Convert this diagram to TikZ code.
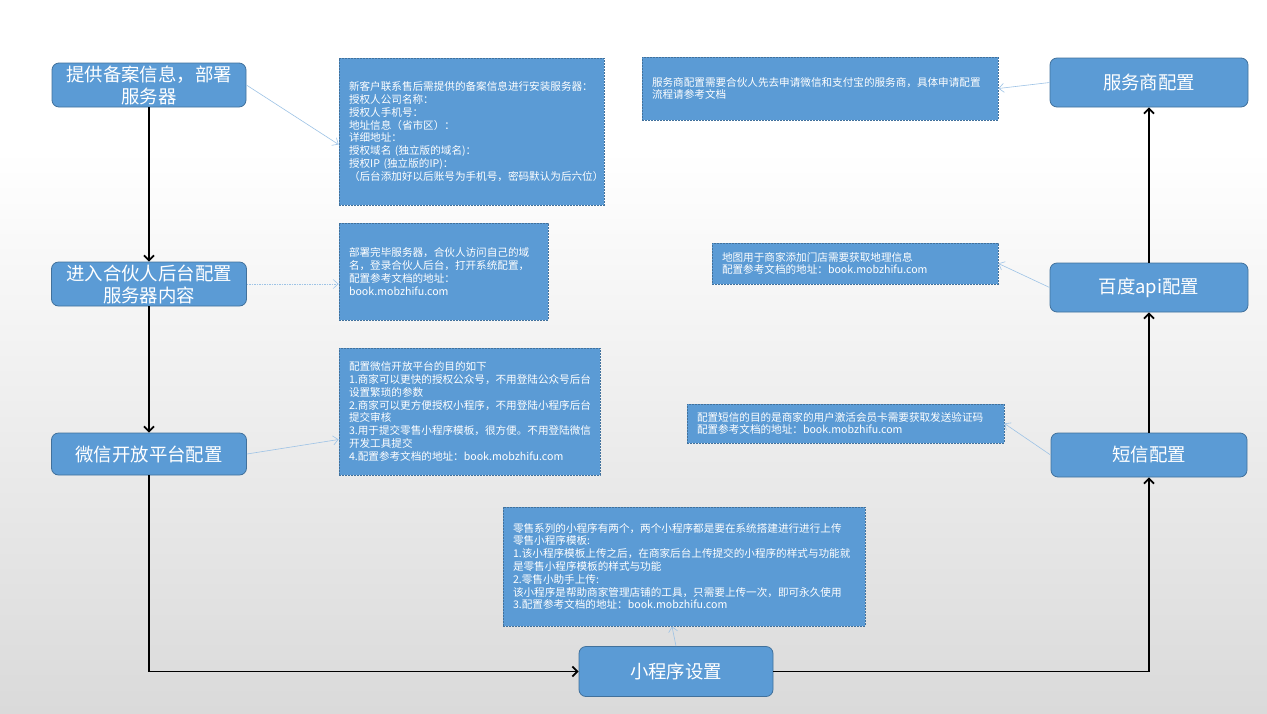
\documentclass[tikz,border=0pt]{standalone}
\usepackage{fontspec}
\setmainfont{Noto Sans CJK SC}
\usetikzlibrary{arrows.meta}

\definecolor{boxblue}{HTML}{5B9BD5}
\definecolor{edgeblue}{HTML}{41719C}
\definecolor{lineblue}{HTML}{9DC3E6}
\definecolor{bggray}{RGB}{218,218,218}

\begin{document}
\begin{tikzpicture}[x=1pt,y=-1pt,
                    mainbox/.style={draw=edgeblue,fill=boxblue,text=white,rounded corners=7pt,line width=0.8pt,
                                    align=center,inner sep=2pt,font=\fontsize{18.4}{22}\selectfont},
                    notebox/.style={draw=edgeblue,fill=boxblue,text=white,dash pattern=on 2pt off 1pt,line width=0.8pt,
                                    inner xsep=10pt,inner ysep=2pt,align=left,font=\fontsize{10.6}{12.8}\selectfont},
                    flow/.style={line width=1.8pt,-{Straight Barb[length=5pt,width=10pt]}},
                    hint/.style={draw=lineblue,line width=0.6pt,-{Straight Barb[length=5pt,width=9pt]}}
]

\fill[white] (0,0) rectangle (1267,150);
\shade[top color=white,bottom color=bggray] (0,150) rectangle (1267,713);
%
\node [mainbox, minimum width=194pt, minimum height=44pt] at (149,85) (box1) {提供备案信息，部署\\服务器};
\node [mainbox, minimum width=195pt, minimum height=44pt] at (149,284) (box2) {进入合伙人后台配置\\服务器内容};
\node [mainbox, minimum width=195pt, minimum height=42pt] at (149,454) (box3) {微信开放平台配置};
\node [mainbox, minimum width=194pt, minimum height=50pt] at (676,671.5) (box4) {小程序设置};
\node [mainbox, minimum width=198pt, minimum height=49pt] at (1149,82.5) (box5) {服务商配置};
\node [mainbox, minimum width=198pt, minimum height=49pt] at (1149,287.5) (box6) {百度api配置};
\node [mainbox, minimum width=196pt, minimum height=44pt] at (1149,455) (box7) {短信配置};
%
\node [notebox, text width=245pt, minimum height=147pt] at (471.5,131.5) (note1) {新客户联系售后需提供的备案信息进行安装服务器：\\授权人公司名称：\\授权人手机号：\\地址信息（省市区）：\\详细地址：\\授权域名 (独立版的域名)：\\授权IP (独立版的IP)：\\（后台添加好以后账号为手机号，密码默认为后六位）};
\node [notebox, text width=189pt, minimum height=97pt] at (443.5,271.5) (note2) {部署完毕服务器，合伙人访问自己的域\\名，登录合伙人后台，打开系统配置，\\配置参考文档的地址：\\book.mobzhifu.com};
\node [notebox, text width=241pt, minimum height=127pt] at (469.5,411.5) (note3) {配置微信开放平台的目的如下\\1.商家可以更快的授权公众号，不用登陆公众号后台\\设置繁琐的参数\\2.商家可以更方便授权小程序，不用登陆小程序后台\\提交审核\\3.用于提交零售小程序模板，很方便。不用登陆微信\\开发工具提交\\4.配置参考文档的地址：book.mobzhifu.com\\[4pt]};
\node [notebox, text width=342pt, minimum height=119pt] at (684,566.5) (note4) {零售系列的小程序有两个，两个小程序都是要在系统搭建进行进行上传\\零售小程序模板:\\1.该小程序模板上传之后，在商家后台上传提交的小程序的样式与功能就\\是零售小程序模板的样式与功能\\2.零售小助手上传:\\该小程序是帮助商家管理店铺的工具，只需要上传一次，即可永久使用\\3.配置参考文档的地址：book.mobzhifu.com};
\node [notebox, text width=336pt, minimum height=63pt] at (820,88.5) (note5) {服务商配置需要合伙人先去申请微信和支付宝的服务商，具体申请配置\\流程请参考文档};
\node [notebox, text width=266pt, minimum height=41pt] at (855,263.5) (note6) {地图用于商家添加门店需要获取地理信息\\配置参考文档的地址：book.mobzhifu.com};
\node [notebox, text width=297pt, minimum height=39pt] at (845.5,423.5) (note7) {配置短信的目的是商家的用户激活会员卡需要获取发送验证码\\配置参考文档的地址：book.mobzhifu.com};
%
\draw[flow] (box1) -- (box2);
\draw[flow] (box2) -- (box3);
\draw[flow] (box3) |- (box4);
\draw[flow] (box4) -| (box7);
\draw[flow] (box7) -- (box6);
\draw[flow] (box6) -- (box5);
%
\draw[hint] (box1.east) -- ([yshift=-13pt]note1.west);
\draw[hint, dash pattern=on 1.5pt off 1pt] (box2.east) -- (box2.east -| note2.west);
\draw[hint] (box3.east) -- ([yshift=-28pt]note3.west);
\draw[hint] (box4.north) -- ([xshift=-12pt]note4.south);
\draw[hint] (box5.west) -- (note5.east);
\draw[hint] (box6.west) -- (note6.east);
\draw[hint] (box7.west) -- (note7.east);
\end{tikzpicture}
\end{document}
